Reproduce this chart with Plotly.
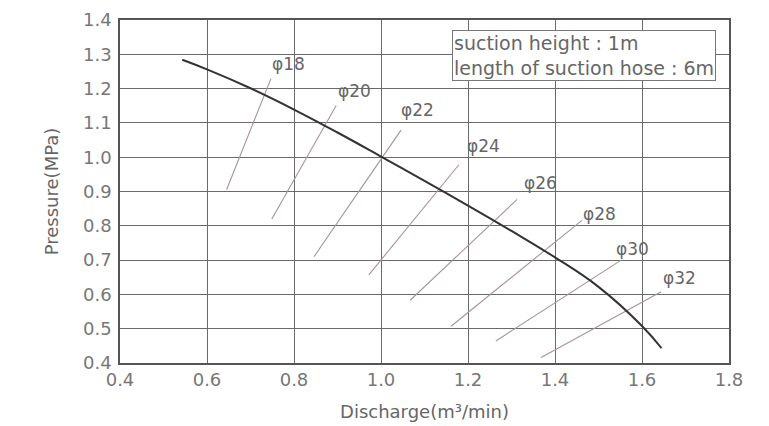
import plotly.graph_objects as go

# Main pump curve
curve_x = [0.543, 0.6, 0.7, 0.8, 0.9, 1.0, 1.1, 1.2, 1.3, 1.4, 1.5, 1.6, 1.645]
curve_y = [1.284, 1.256, 1.201, 1.139, 1.072, 1.002, 0.931, 0.859, 0.785, 0.708, 0.622, 0.508, 0.443]

# Nozzle lines
nozzle_names = ["φ18", "φ20", "φ22", "φ24", "φ26", "φ28", "φ30", "φ32"]
nozzle_x0 = [0.645, 0.749, 0.846, 0.972, 1.067, 1.161, 1.264, 1.368]
nozzle_y0 = [0.905, 0.820, 0.710, 0.657, 0.583, 0.507, 0.464, 0.416]
nozzle_x1 = [0.747, 0.897, 1.046, 1.179, 1.313, 1.462, 1.552, 1.644]
nozzle_y1 = [1.229, 1.151, 1.079, 0.978, 0.877, 0.816, 0.700, 0.608]
label_x = [0.745, 0.897, 1.041, 1.193, 1.324, 1.460, 1.536, 1.644]
label_y = [1.273, 1.192, 1.137, 1.033, 0.926, 0.834, 0.732, 0.648]

x_ticks = [0.4, 0.6, 0.8, 1.0, 1.2, 1.4, 1.6, 1.8]
y_ticks = [0.4, 0.5, 0.6, 0.7, 0.8, 0.9, 1.0, 1.1, 1.2, 1.3, 1.4]

note_lines = ["suction height : 1m", "length of suction hose : 6m"]

FONT = "DejaVu Sans"
TXT = "#666666"

fig = go.Figure()

for i in range(len(nozzle_names)):
    fig.add_trace(go.Scatter(
        x=[nozzle_x0[i], nozzle_x1[i]], y=[nozzle_y0[i], nozzle_y1[i]],
        mode="lines", line=dict(color="#a8939a", width=1.1),
        showlegend=False, hoverinfo="skip"))

fig.add_trace(go.Scatter(x=curve_x, y=curve_y, mode="lines",
                         line=dict(color="#333333", width=2, shape="spline", smoothing=1.2),
                         showlegend=False))

for i, name in enumerate(nozzle_names):
    fig.add_annotation(x=label_x[i], y=label_y[i], text=name, showarrow=False,
                       xanchor="left", yanchor="middle",
                       font=dict(family=FONT, size=17, color=TXT))

fig.add_annotation(x=1.163, y=1.372, xref="x", yref="y",
                   text="<br>".join(note_lines), showarrow=False,
                   xanchor="left", yanchor="top", align="left",
                   bordercolor="#777777", borderwidth=1, borderpad=1,
                   bgcolor="white",
                   font=dict(family=FONT, size=19, color=TXT))

fig.update_xaxes(range=[0.4, 1.8], tickvals=x_ticks,
                 ticktext=[f"{v:.1f}" for v in x_ticks],
                 showgrid=True, gridcolor="#6a6a6a", gridwidth=1,
                 showline=True, linecolor="#555555", linewidth=1.5, mirror=True,
                 zeroline=False, ticks="", ticklen=0, ticklabeloverflow="allow",
                 automargin=False,
                 tickfont=dict(family=FONT, size=18, color="#777777"),
                 title=dict(text="Discharge(m³/min)", standoff=16,
                            font=dict(family=FONT, size=18, color=TXT)))
fig.update_yaxes(range=[0.4, 1.4], tickvals=y_ticks,
                 ticktext=[f"{v:.1f}" for v in y_ticks],
                 showgrid=True, gridcolor="#6a6a6a", gridwidth=1,
                 showline=True, linecolor="#555555", linewidth=1.5, mirror=True,
                 zeroline=False, ticks="", ticklen=0, ticklabeloverflow="allow",
                 ticklabelstandoff=3, automargin=False,
                 tickfont=dict(family=FONT, size=18, color="#777777"),
                 title=dict(text="Pressure(MPa)", standoff=20,
                            font=dict(family=FONT, size=18, color=TXT)))

fig.update_layout(width=769, height=426,
                  margin=dict(l=112, r=48, t=12, b=71),
                  paper_bgcolor="white", plot_bgcolor="white",
                  showlegend=False)

fig.write_html("out.html")
